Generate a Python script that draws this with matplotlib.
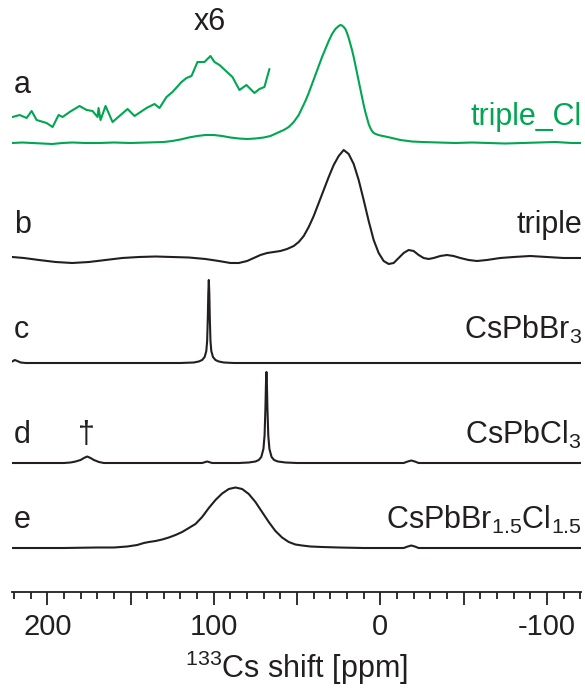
# -*- coding: utf-8 -*-
# 133Cs MAS NMR spectra, stacked traces a-e
import numpy as np
import matplotlib
matplotlib.use('Agg')
import matplotlib.pyplot as plt

plt.rcParams['font.family'] = ['Liberation Sans', 'DejaVu Sans']
plt.rcParams['mathtext.fontset'] = 'custom'
plt.rcParams['mathtext.rm'] = 'Liberation Sans'
plt.rcParams['mathtext.it'] = 'Liberation Sans'

# ----------------------------------------------------------------------------
# Data: shift [ppm] and height above each baseline (px)
# ----------------------------------------------------------------------------

# a: triple_Cl
a_ppm = [221, 215, 209, 203, 197, 191, 185, 177, 169, 160, 150, 140, 130, 125,
         120, 115, 110, 105, 100, 95, 90, 85, 80, 75, 70, 66, 62, 58, 55, 52,
         49, 47, 45, 43, 41, 39, 37, 35, 33, 31, 29, 27, 25, 24, 23, 22, 21,
         20, 19, 18, 17, 16, 15, 14, 13, 12, 11, 10, 9, 8, 7, 6, 5, 4, 2, 0,
         -3, -7, -12, -19, -25, -35, -45, -55, -65, -75, -85, -95, -105, -115,
         -121]
a_int = [0, 0.5, 0, -0.5, -1, 0, 0.5, 0, 0, 0.5, 0, 0.5, 1, 2,
         3.5, 5.5, 7, 8, 8, 7, 5.5, 4.5, 4, 4.5, 5.5, 7, 10, 13, 16, 21,
         28, 35, 42, 50, 59, 68, 77, 86, 94, 102, 109, 114, 117, 118, 117.5,
         116, 114, 110, 105, 99, 93, 86, 78, 70, 62, 54, 46, 38, 31, 25, 19,
         15, 12, 10, 8.5, 7.5, 6.5, 5, 3, 1.5, 1, 0.5, 0, 0.5, 0, -0.5, 0, 0.5,
         1, 0, 0]

# a, x6 inset (221 to 67 ppm)
a6_ppm = [220.8, 216.6, 212.4, 209.4, 206.4, 200.4, 196.8, 193.2, 190.8, 186.6,
          180.6, 176.4, 172.8, 169.8, 169.2, 168.0, 165.0, 160.8, 151.8, 147.6,
          140.4, 135.6, 132.6, 128.4, 124.8, 119.4, 116.4, 113.4, 109.8, 105.6,
          102.0, 99.6, 96.6, 88.8, 84.6, 80.4, 75.6, 72.6, 69.6, 66.6]
a6_int = [26, 28, 25, 32, 23, 20, 16, 28, 26, 31,
          37, 33, 32, 26, 35, 23, 37, 21, 34, 27,
          35, 39, 35, 46, 51, 61, 65, 67, 81, 81,
          87, 81, 78, 66, 53, 58, 50, 54, 56, 74]

# b: triple
b_ppm = [221, 214, 205, 195, 185, 175, 165, 155, 145, 135, 125, 115, 105, 97,
         90, 85, 80, 76, 72, 68, 64, 60, 56, 52, 49, 46, 43, 40, 37, 34, 31,
         28, 25, 22, 19, 16, 13, 10, 7, 4, 1, -2, -5, -8, -11, -14, -17, -20,
         -23, -26, -29, -32, -36, -40, -44, -48, -53, -58, -64, -72, -80, -90,
         -100, -110, -121]
b_int = [1, 0, -2, -4, -5, -4, -2, 0, 1, 1.5, 1, 0.5, -1, -3,
         -5, -5, -3, 0, 3, 5, 6, 7, 9, 12, 16, 22, 31, 42, 55, 68, 81,
         93, 102, 108, 104, 94, 78, 58, 37, 18, 5, -3, -6, -5, 0, 5, 8, 7,
         3, 0, -1, 0, 2, 3, 2, 0, -2, -3, -2, 0, 1, 2,
         1, 0, 0]

# c: CsPbBr3
c_ppm = [221, 219.5, 218, 216, 213, 190, 150, 120, 112, 109, 107, 105.5, 104.5,
         104, 103.6, 103.3, 103, 102.7, 102.4, 102, 101.5, 100.5, 99, 97, 94,
         88, 60, 0, -60, -121]
c_int = [1.5, 3, 2, 0.5, 0, 0, 0, 0, 0.5, 1.5, 3, 6, 12,
         22, 45, 70, 83, 70, 45, 22, 12, 6, 3, 1.5, 0.5,
         0, 0, 0, 0, 0]

# d: CsPbCl3 (dagger impurity at 176 ppm)
d_ppm = [221, 190, 186, 183, 180, 178, 176, 174, 172, 169, 166, 140, 107,
         104, 101, 85, 79, 75, 73, 71.5, 70.2, 69.5, 69, 68.7, 68.4, 68.1,
         67.8, 67.3, 66.6, 65.3, 63.8, 61.5, 57, 50, 20, -14, -16.5, -18.6,
         -20.7, -23, -60, -121]
d_int = [0, 0, 0.5, 1.5, 3, 5, 6.5, 5, 3, 1, 0, 0, 0,
         1.5, 0, 0, 0.5, 1.5, 3, 6, 14, 28, 55, 78, 91, 78,
         55, 28, 14, 6, 3, 1.5, 0.5, 0, 0, 0, 1.5, 2.5,
         1.5, 0, 0, 0]

# e: CsPbBr1.5Cl1.5
e_ppm = [221, 190, 170, 160, 152, 146, 142, 139, 135, 131, 127, 123, 119, 115,
         111, 107, 103, 99, 95, 91, 87, 83, 79, 75, 71, 67, 63, 59, 55, 51, 47,
         42, 35, 25, 10, -14, -16.5, -18.6, -20.7, -23, -60, -121]
e_int = [0, 0, 0.5, 0.5, 1.5, 3, 5, 6, 7, 8.5, 10.5, 13, 16, 20,
         24, 31, 40, 48, 54.5, 59, 60.5, 59, 54, 46, 36, 26, 17, 10.5, 6, 3.5,
         2.5, 1.5, 1, 0.5, 0, 0, 1.5, 2.5, 1.5, 0, 0, 0]

# baselines (height above the x axis, px)
offsets = {'a': 449, 'b': 334, 'c': 229, 'd': 129, 'e': 44}
a6_offset = offsets['a']

green = '#00A651'
black = '#231F20'

W, H = 585, 691
fig = plt.figure(figsize=(W / 100, H / 100), dpi=100)
ax = fig.add_axes([12.3 / W, (H - 592) / H, (581 - 12.3) / W, 592 / H])

kw = dict(lw=1.5, solid_joinstyle='round', solid_capstyle='round')
ax.plot(a_ppm, np.array(a_int) + offsets['a'], color=green, **kw)
ax.plot(a6_ppm, np.array(a6_int) + a6_offset, color=green, **kw)
ax.plot(b_ppm, np.array(b_int) + offsets['b'], color=black, **kw)
ax.plot(c_ppm, np.array(c_int) + offsets['c'], color=black, **kw)
ax.plot(d_ppm, np.array(d_int) + offsets['d'], color=black, **kw)
ax.plot(e_ppm, np.array(e_int) + offsets['e'], color=black, **kw)

ax.set_xlim(221, -120.5)
ax.set_ylim(0, 592)
ax.set_xticks([200, 150, 100, 50, 0, -50, -100])
ax.set_xticklabels(['200', '', '100', '', '0', '', '-100'])
ax.set_xticks(np.arange(-120, 221, 10), minor=True)
ax.tick_params(axis='x', which='major', direction='out', length=9, width=1.3,
               labelsize=21, pad=6, color=black, labelcolor=black)
ax.tick_params(axis='x', which='minor', direction='out', length=5, width=1.3,
               color=black)
ax.set_yticks([])
for s in ['left', 'right', 'top']:
    ax.spines[s].set_visible(False)
ax.spines['bottom'].set_linewidth(1.3)
ax.spines['bottom'].set_color(black)
ax.set_xlabel('$^{133}$Cs shift [ppm]', fontsize=22, color=black, labelpad=6)
ax.patch.set_alpha(0)

def ftext(px, py, s, **kw):
    fig.text(px / W, 1 - py / H, s, va='center', fontsize=22, **kw)

for lab, py in [('a', 85), ('b', 225), ('c', 330), ('d', 435), ('e', 520)]:
    ftext(14, py, lab, ha='left', color=black)

ftext(582, 117, 'triple_Cl', ha='right', color=green)
ftext(582, 225, 'triple', ha='right', color=black)
ftext(582, 330, 'CsPbBr$_3$', ha='right', color=black)
ftext(582, 435, 'CsPbCl$_3$', ha='right', color=black)
ftext(582, 520, 'CsPbBr$_{1.5}$Cl$_{1.5}$', ha='right', color=black)
ftext(210, 22, 'x6', ha='center', color=black)
ftext(86, 435, '\u2020', ha='center', color=black)

fig.savefig('out.png', dpi=100)
